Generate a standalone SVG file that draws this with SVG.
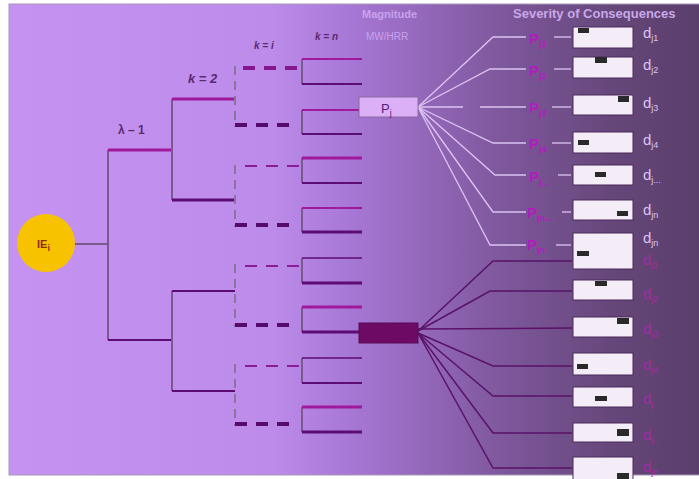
<svg xmlns="http://www.w3.org/2000/svg" width="699" height="479" viewBox="0 0 699 479">
<defs>
<linearGradient id="bg" x1="0" y1="0" x2="1" y2="0">
<stop offset="0" stop-color="#c592f2"/>
<stop offset="0.38" stop-color="#bd8cea"/>
<stop offset="0.5" stop-color="#a676d4"/>
<stop offset="0.7" stop-color="#80599f"/>
<stop offset="0.88" stop-color="#654678"/>
<stop offset="1" stop-color="#5a3e6c"/>
</linearGradient>
<style>
text{font-family:"Liberation Sans",Arial,sans-serif}
.vline{stroke:#7a5a8c;stroke-width:2;fill:none}
.vdash{stroke:#8a7498;stroke-width:2;fill:none;stroke-dasharray:9 6}
.mag{stroke:#a0189c;fill:none}
.dk{stroke:#5c0c74;fill:none}
.dashT{stroke:#8a1c98;stroke-width:2;stroke-dasharray:12 9;fill:none}
.dashB{stroke:#560a6c;stroke-width:4;stroke-dasharray:12 9;fill:none}
.fanL{stroke:#dcc4f2;stroke-width:1.3;fill:none}
.fanD{stroke:#5a1268;stroke-width:1.5;fill:none}
.box{fill:#f4ecf6;stroke:#4a2a5a;stroke-width:1}
.mk{fill:#2a2a2a}
.pl{font-size:15px;fill:#b01cc0;font-weight:bold}
.dl{font-size:15px;fill:#dcc2f4}
.dd{font-size:15px;fill:#a02ca8}
.kl{font-weight:bold;font-style:italic;fill:#5a2a70}
.sub{font-size:9px}
</style>
</defs>
<rect x="0" y="0" width="699" height="479" fill="#ffffff"/>
<rect x="9" y="4" width="692" height="471" fill="url(#bg)" stroke="#a898b8" stroke-width="1"/>

<g id="labels">
<text x="118" y="134" font-size="12" font-weight="bold" fill="#5a2a70">λ – 1</text>
<text x="188" y="83" font-size="13" class="kl">k = 2</text>
<text x="254" y="49" font-size="10" class="kl">k = i</text>
<text x="315" y="40" font-size="10" class="kl">k = n</text>
<text x="362" y="18" font-size="11" font-weight="bold" fill="#c8a2ec">Magnitude</text>
<text x="366" y="40" font-size="10" fill="#c8a2ec">MW/HRR</text>
<text x="513" y="18" font-size="13" font-weight="bold" fill="#c8a8e8">Severity of Consequences</text>
</g>

<g id="connectors">
<line x1="75" y1="244" x2="108" y2="244" class="vline" stroke-width="1.5"/>
<line x1="108" y1="150" x2="108" y2="340" class="vline"/>
<line x1="108" y1="150" x2="172" y2="150" class="mag" stroke-width="3"/>
<line x1="108" y1="340" x2="172" y2="340" class="dk" stroke-width="2"/>
<line x1="172" y1="99" x2="172" y2="200" class="vline"/>
<line x1="172" y1="99" x2="235" y2="99" class="mag" stroke-width="3"/>
<line x1="172" y1="200" x2="235" y2="200" class="dk" stroke-width="3"/>
<line x1="172" y1="291" x2="172" y2="391" class="vline"/>
<line x1="172" y1="291" x2="235" y2="291" class="dk" stroke-width="2"/>
<line x1="172" y1="391" x2="235" y2="391" class="dk" stroke-width="2"/>
<line x1="235" y1="66" x2="235" y2="127" class="vdash"/>
<line x1="243" y1="68" x2="302" y2="68" class="dashB" style="stroke:#861690"/>
<line x1="235" y1="125" x2="294" y2="125" class="dashB"/>
<line x1="235" y1="165" x2="235" y2="227" class="vdash"/>
<line x1="245" y1="166" x2="302" y2="166" class="dashT"/>
<line x1="235" y1="225" x2="294" y2="225" class="dashB"/>
<line x1="235" y1="264" x2="235" y2="327" class="vdash"/>
<line x1="245" y1="266" x2="302" y2="266" class="dashT"/>
<line x1="235" y1="325" x2="294" y2="325" class="dashB"/>
<line x1="235" y1="364" x2="235" y2="426" class="vdash"/>
<line x1="245" y1="366" x2="302" y2="366" class="dashT"/>
<line x1="235" y1="424" x2="294" y2="424" class="dashB"/>
<g class="vline">
<line x1="302" y1="59" x2="302" y2="84"/>
<line x1="302" y1="110" x2="302" y2="134"/>
<line x1="302" y1="158" x2="302" y2="183"/>
<line x1="302" y1="208" x2="302" y2="232"/>
<line x1="302" y1="258" x2="302" y2="283"/>
<line x1="302" y1="307" x2="302" y2="332"/>
<line x1="302" y1="358" x2="302" y2="383"/>
<line x1="302" y1="407" x2="302" y2="432"/>
</g>
<line x1="302" y1="59" x2="362" y2="59" class="mag" stroke-width="2"/>
<line x1="302" y1="84" x2="362" y2="84" class="dk" stroke-width="2"/>
<line x1="302" y1="110" x2="362" y2="110" class="mag" stroke-width="2"/>
<line x1="302" y1="134" x2="362" y2="134" class="dk" stroke-width="2"/>
<line x1="302" y1="158" x2="362" y2="158" class="mag" stroke-width="3"/>
<line x1="302" y1="183" x2="362" y2="183" class="dk" stroke-width="2"/>
<line x1="302" y1="208" x2="362" y2="208" class="mag" stroke-width="2"/>
<line x1="302" y1="232" x2="362" y2="232" class="dk" stroke-width="3"/>
<line x1="302" y1="258" x2="362" y2="258" class="dk" stroke-width="1.5"/>
<line x1="302" y1="283" x2="362" y2="283" class="dk" stroke-width="3"/>
<line x1="302" y1="307" x2="362" y2="307" class="mag" stroke-width="3"/>
<line x1="302" y1="332" x2="362" y2="332" class="dk" stroke-width="3"/>
<line x1="302" y1="358" x2="362" y2="358" class="dk" stroke-width="1.5"/>
<line x1="302" y1="383" x2="362" y2="383" class="dk" stroke-width="2"/>
<line x1="302" y1="407" x2="362" y2="407" class="mag" stroke-width="3"/>
<line x1="302" y1="432" x2="362" y2="432" class="dk" stroke-width="3"/>
<polyline class="fanL" points="418,107 493,37 526,37"/>
<polyline class="fanL" points="418,107 490,69 526,69"/>
<polyline class="fanL" points="418,107 463,107"/>
<polyline class="fanL" points="480,107 526,107"/>
<polyline class="fanL" points="418,107 493,143 526,143"/>
<polyline class="fanL" points="418,107 495,175 526,175"/>
<polyline class="fanL" points="418,107 493,212 526,212"/>
<polyline class="fanL" points="418,107 490,245 526,245"/>
<g class="fanL">
<line x1="554" y1="37" x2="571" y2="37"/>
<line x1="554" y1="69" x2="571" y2="69"/>
<line x1="552" y1="107" x2="571" y2="107"/>
<line x1="552" y1="143" x2="571" y2="143"/>
<line x1="558" y1="175" x2="571" y2="175"/>
<line x1="562" y1="212" x2="571" y2="212"/>
<line x1="556" y1="245" x2="571" y2="245"/>
</g>
<polyline class="fanD" points="418,331 493,261 572,261"/>
<polyline class="fanD" points="418,331 490,291 572,291"/>
<polyline class="fanD" points="418,329 572,328"/>
<polyline class="fanD" points="418,333 493,366 572,366"/>
<polyline class="fanD" points="418,333 493,396 572,396"/>
<polyline class="fanD" points="418,333 493,433 572,433"/>
<polyline class="fanD" points="418,333 493,468 572,468"/>
</g>

<g id="node-IE">
<circle cx="46" cy="243" r="29" fill="#f7c300"/>
<text x="37" y="248" font-size="11" font-weight="bold" fill="#8a3010">IE<tspan class="sub" dy="3">i</tspan></text>
</g>

<g id="node-Pj">
<rect x="359" y="97" width="59" height="20" fill="#dcb0f6" stroke="#8a6aa0" stroke-width="1"/>
<text x="381" y="113" font-size="13" fill="#5a1a80">P<tspan class="sub" dy="3">j</tspan></text>
</g>

<g id="node-dark">
<rect x="359" y="323" width="59" height="20" fill="#6c0a64" stroke="#5a0a58" stroke-width="1"/>
</g>

<g id="node-P-labels">
<text x="529" y="44" class="pl">P<tspan class="sub" dy="3">j1</tspan></text>
<text x="529" y="76" class="pl">P<tspan class="sub" dy="3">j2</tspan></text>
<text x="529" y="113" class="pl">P<tspan class="sub" dy="3">j3</tspan></text>
<text x="529" y="149" class="pl">P<tspan class="sub" dy="3">j4</tspan></text>
<text x="529" y="182" class="pl">P<tspan class="sub" dy="3">j...</tspan></text>
<text x="527" y="218" class="pl">P<tspan class="sub" dy="3">jn...</tspan></text>
<text x="527" y="250" class="pl">P<tspan class="sub" dy="3">jn</tspan></text>
</g>

<g id="node-boxes">
<rect class="box" x="573" y="27" width="60" height="21"/><rect class="mk" x="578" y="28" width="11" height="5"/>
<rect class="box" x="573" y="57" width="60" height="21"/><rect class="mk" x="595" y="57" width="12" height="6"/>
<rect class="box" x="573" y="95" width="60" height="20"/><rect class="mk" x="618" y="96" width="11" height="6"/>
<rect class="box" x="573" y="132" width="60" height="21"/><rect class="mk" x="578" y="140" width="11" height="5"/>
<rect class="box" x="573" y="165" width="60" height="20"/><rect class="mk" x="595" y="172" width="11" height="5"/>
<rect class="box" x="573" y="200" width="60" height="20"/><rect class="mk" x="617" y="211" width="11" height="5"/>
<rect class="box" x="573" y="233" width="60" height="36"/><rect class="mk" x="577" y="251" width="12" height="5"/>
<rect class="box" x="573" y="280" width="60" height="20"/><rect class="mk" x="595" y="281" width="12" height="5"/>
<rect class="box" x="573" y="317" width="60" height="20"/><rect class="mk" x="617" y="318" width="12" height="6"/>
<rect class="box" x="573" y="353" width="60" height="22"/><rect class="mk" x="577" y="364" width="11" height="5"/>
<rect class="box" x="573" y="387" width="60" height="20"/><rect class="mk" x="595" y="396" width="12" height="5"/>
<rect class="box" x="573" y="423" width="60" height="19"/><rect class="mk" x="617" y="429" width="12" height="7"/>
<rect class="box" x="573" y="457" width="60" height="24"/><rect class="mk" x="617" y="473" width="12" height="6"/>
</g>

<g id="node-d-labels">
<text x="643" y="38" class="dl">d<tspan class="sub" dy="3">j1</tspan></text>
<text x="643" y="70" class="dl">d<tspan class="sub" dy="3">j2</tspan></text>
<text x="643" y="108" class="dl">d<tspan class="sub" dy="3">j3</tspan></text>
<text x="643" y="145" class="dl">d<tspan class="sub" dy="3">j4</tspan></text>
<text x="643" y="180" class="dl">d<tspan class="sub" dy="3">j...</tspan></text>
<text x="643" y="215" class="dl">d<tspan class="sub" dy="3">jn</tspan></text>
<text x="643" y="243" class="dl">d<tspan class="sub" dy="3">jn</tspan></text>
<text x="643" y="265" class="dd">d<tspan class="sub" dy="3">j1</tspan></text>
<text x="643" y="299" class="dd">d<tspan class="sub" dy="3">j2</tspan></text>
<text x="643" y="334" class="dd">d<tspan class="sub" dy="3">j3</tspan></text>
<text x="643" y="370" class="dd">d<tspan class="sub" dy="3">j4</tspan></text>
<text x="643" y="404" class="dd">d<tspan class="sub" dy="3">j</tspan></text>
<text x="643" y="440" class="dd">d<tspan class="sub" dy="3">j..</tspan></text>
<text x="643" y="472" class="dd">d<tspan class="sub" dy="3">jn</tspan></text>
</g>
</svg>
